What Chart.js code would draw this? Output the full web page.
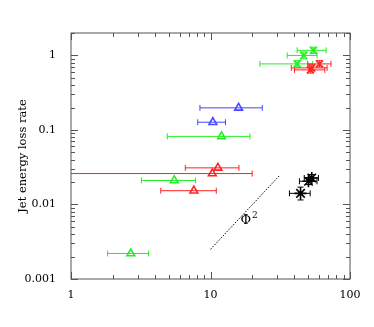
<!DOCTYPE html>
<html>
<head>
<meta charset="utf-8">
<script src="https://cdn.jsdelivr.net/npm/chart.js@4/dist/chart.umd.min.js"></script>
<style>
  html, body { margin: 0; padding: 0; background: #fff; }
</style>
</head>
<body>
<canvas id="lossChart" width="374" height="327"></canvas>
<script>
// tick labels
const xTicks = [1, 10, 100];
const yTicks = [0.001, 0.01, 0.1, 1];

// green triangles
const greenTriX = [12.0, 5.5, 2.68];
const greenTriY = [0.082, 0.021, 0.0022];
const greenTriXLo = [4.9, 3.2, 1.83];
const greenTriXHi = [19.2, 7.8, 3.6];

// blue triangles
const blueTriX = [15.9, 10.4];
const blueTriY = [0.198, 0.127];
const blueTriXLo = [8.4, 8.1];
const blueTriXHi = [23.5, 12.8];

// red triangles
const redTriX = [11.3, 10.3, 7.6];
const redTriY = [0.031, 0.026, 0.0153];
const redTriXLo = [6.6, 0.5, 4.4];
const redTriXHi = [16.0, 19.9, 11.0];

// green crosses
const greenXX = [54.7, 46.6, 41.8];
const greenXY = [1.17, 1.0, 0.77];
const greenXXLo = [41.8, 35.5, 22.6];
const greenXXHi = [67.4, 58.1, 54.0];
const greenXYLo = [1.06, 0.9, 0.7];
const greenXYHi = [1.29, 1.11, 0.85];

// red crosses
const redXX = [60.4, 53.2, 52.0];
const redXY = [0.77, 0.68, 0.64];
const redXXLo = [49.8, 37.9, 40.0];
const redXXHi = [73.1, 68.5, 66.0];
const redXYLo = [0.7, 0.62, 0.58];
const redXYHi = [0.85, 0.75, 0.7];

// black stars
const blackX = [53.2, 50.4, 44.2];
const blackY = [0.0227, 0.0205, 0.0141];
const blackXLo = [47.0, 43.4, 36.8];
const blackXHi = [59.4, 58.0, 51.8];
const blackYLo = [0.0205, 0.0185, 0.0115];
const blackYHi = [0.0252, 0.0228, 0.0171];

// phi^2 guide line
const guideX = [10, 31.6];
const guideY = [0.0025, 0.025];
const guideLabel = ['Φ', '2'];
const guideLabelPos = [18.3, 0.0061];

const GREEN = '#22ee22';
const BLUE = '#4646ff';
const RED = '#ff2222';
const BLACK = '#000000';

function pts(xs, ys, xlo, xhi, ylo, yhi) {
  return xs.map((x, i) => ({
    x: x, y: ys[i],
    xMin: xlo ? xlo[i] : null, xMax: xhi ? xhi[i] : null,
    yMin: ylo ? ylo[i] : null, yMax: yhi ? yhi[i] : null
  }));
}

function markerSet(label, data, color, style, radius) {
  return {
    label: label,
    data: data,
    showLine: false,
    borderColor: color,
    backgroundColor: 'rgba(255,255,255,0)',
    pointStyle: style,
    pointRadius: radius,
    pointBorderWidth: 1.6,
    errColor: color
  };
}

// draws error bars with the chart's own scales
const errorBars = {
  id: 'errorBars',
  beforeDatasetsDraw(chart) {
    const ctx = chart.ctx;
    const xs = chart.scales.x, ys = chart.scales.y;
    const area = chart.chartArea;
    ctx.save();
    ctx.beginPath();
    ctx.rect(area.left, area.top, area.right - area.left, area.bottom - area.top);
    ctx.clip();
    chart.data.datasets.forEach(ds => {
      if (!ds.errColor) return;
      ctx.strokeStyle = ds.errColor;
      ctx.lineWidth = 1;
      ds.data.forEach(p => {
        const px = xs.getPixelForValue(p.x), py = ys.getPixelForValue(p.y);
        if (p.xMin != null) {
          const a = xs.getPixelForValue(p.xMin), b = xs.getPixelForValue(p.xMax);
          ctx.beginPath();
          ctx.moveTo(a, py); ctx.lineTo(b, py);
          ctx.moveTo(a, py - 3); ctx.lineTo(a, py + 3);
          ctx.moveTo(b, py - 3); ctx.lineTo(b, py + 3);
          ctx.stroke();
        }
        if (p.yMin != null) {
          const a = ys.getPixelForValue(p.yMin), b = ys.getPixelForValue(p.yMax);
          ctx.beginPath();
          ctx.moveTo(px, a); ctx.lineTo(px, b);
          ctx.moveTo(px - 3, a); ctx.lineTo(px + 3, a);
          ctx.moveTo(px - 3, b); ctx.lineTo(px + 3, b);
          ctx.stroke();
        }
      });
    });
    ctx.restore();
  }
};

// frame with inward log ticks on all sides, plus the phi^2 label
const frameTicks = {
  id: 'frameTicks',
  afterDraw(chart) {
    const ctx = chart.ctx;
    const xs = chart.scales.x, ys = chart.scales.y;
    const a = chart.chartArea;
    ctx.save();
    ctx.strokeStyle = '#555';
    ctx.lineWidth = 1;
    ctx.strokeRect(a.left, a.top, a.right - a.left, a.bottom - a.top);
    ctx.beginPath();
    for (let d = 1; d < 100; d *= 10) {
      for (let m = 1; m <= 10; m++) {
        const v = d * m;
        if (v > 100) continue;
        const len = m === 1 || m === 10 ? 7 : 4;
        const px = Math.round(xs.getPixelForValue(v)) + 0.5;
        ctx.moveTo(px, a.bottom); ctx.lineTo(px, a.bottom - len);
        ctx.moveTo(px, a.top); ctx.lineTo(px, a.top + len);
      }
    }
    for (let d = 0.001; d < 2; d *= 10) {
      for (let m = 1; m <= 9; m++) {
        const v = d * m;
        if (v > 2) continue;
        const len = m === 1 ? 7 : 4;
        const py = Math.round(ys.getPixelForValue(v)) + 0.5;
        ctx.moveTo(a.left, py); ctx.lineTo(a.left + len, py);
        ctx.moveTo(a.right, py); ctx.lineTo(a.right - len, py);
      }
    }
    ctx.stroke();
    // phi^2 label
    const lx = xs.getPixelForValue(guideLabelPos[0]);
    const ly = ys.getPixelForValue(guideLabelPos[1]);
    ctx.fillStyle = '#000';
    ctx.textBaseline = 'middle';
    ctx.textAlign = 'right';
    ctx.font = '13px "DejaVu Serif"';
    ctx.fillText(guideLabel[0], lx + 4, ly);
    ctx.textAlign = 'left';
    ctx.font = '9px "DejaVu Serif"';
    ctx.fillText(guideLabel[1], lx + 5, ly - 5);
    ctx.restore();
  }
};

new Chart(document.getElementById('lossChart'), {
  type: 'scatter',
  data: {
    datasets: [
      {
        label: 'guide',
        data: guideX.map((x, i) => ({ x: x, y: guideY[i] })),
        showLine: true,
        borderColor: '#000',
        borderWidth: 1,
        borderDash: [1.5, 1.5],
        pointRadius: 0
      },
      markerSet('green tri', pts(greenTriX, greenTriY, greenTriXLo, greenTriXHi), GREEN, 'triangle', 4.5),
      markerSet('blue tri', pts(blueTriX, blueTriY, blueTriXLo, blueTriXHi), BLUE, 'triangle', 4.5),
      markerSet('red tri', pts(redTriX, redTriY, redTriXLo, redTriXHi), RED, 'triangle', 4.5),
      markerSet('green x', pts(greenXX, greenXY, greenXXLo, greenXXHi, greenXYLo, greenXYHi), GREEN, 'crossRot', 5),
      markerSet('red x', pts(redXX, redXY, redXXLo, redXXHi, redXYLo, redXYHi), RED, 'crossRot', 5),
      markerSet('black', pts(blackX, blackY, blackXLo, blackXHi, blackYLo, blackYHi), BLACK, 'star', 6)
    ]
  },
  options: {
    responsive: false,
    animation: false,
    layout: { padding: { left: 16, right: 24, top: 33, bottom: 18 } },
    plugins: { legend: { display: false }, tooltip: { enabled: false } },
    scales: {
      x: {
        type: 'logarithmic',
        min: 1, max: 100,
        afterBuildTicks: s => { s.ticks = xTicks.map(v => ({ value: v })); },
        afterFit: s => { s.height = 30; },
        grid: { display: false },
        border: { display: false },
        ticks: {
          color: '#000',
          font: { family: 'DejaVu Serif', size: 11 },
          padding: 2,
          maxRotation: 0,
          callback: v => String(v)
        }
      },
      y: {
        type: 'logarithmic',
        min: 0.001, max: 2,
        afterBuildTicks: s => { s.ticks = yTicks.map(v => ({ value: v })); },
        afterFit: s => { s.width = 55; },
        grid: { display: false },
        border: { display: false },
        title: {
          display: true,
          text: 'Jet energy loss rate',
          color: '#000',
          font: { family: 'DejaVu Serif', size: 11.5 },
          padding: 0
        },
        ticks: {
          color: '#000',
          font: { family: 'DejaVu Serif', size: 11 },
          padding: 7,
          callback: v => String(v)
        }
      }
    }
  },
  plugins: [errorBars, frameTicks]
});
</script>
</body>
</html>
